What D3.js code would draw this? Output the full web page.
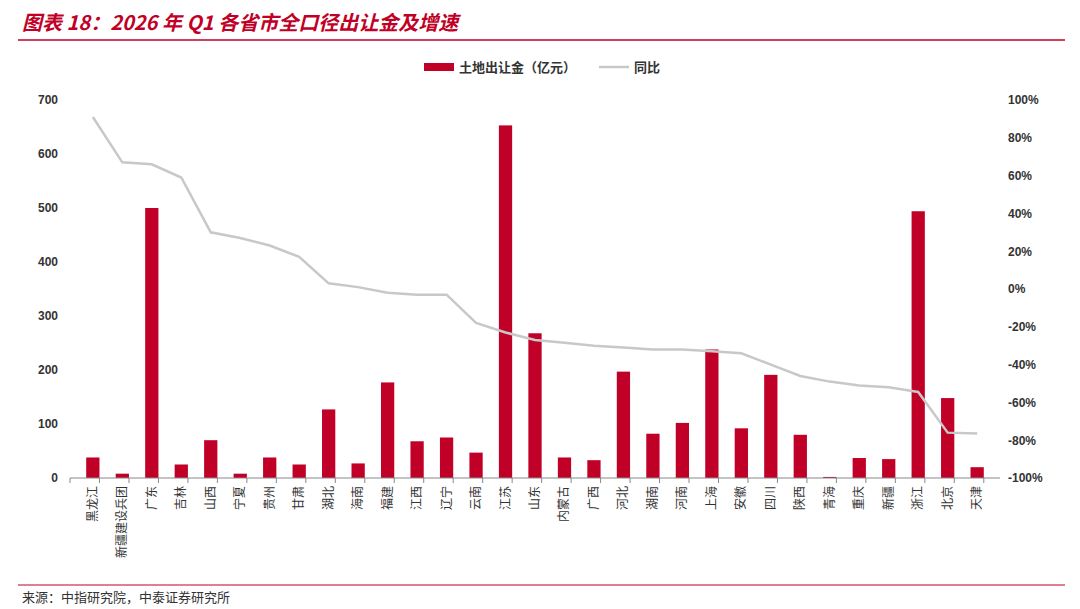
<!DOCTYPE html>
<html><head><meta charset="utf-8">
<script src="https://cdn.jsdelivr.net/npm/d3@7"></script>
<style>body{margin:0;background:#fff;font-family:"Noto Sans CJK SC","Noto Sans",sans-serif}</style>
</head><body><svg id="c" width="1080" height="609"></svg>
<script>
const provinces = ["黑龙江","新疆建设兵团","广东","吉林","山西","宁夏","贵州","甘肃","湖北","海南","福建","江西","辽宁","云南","江苏","山东","内蒙古","广西","河北","湖南","河南","上海","安徽","四川","陕西","青海","重庆","新疆","浙江","北京","天津"];
const landRevenue = [38,8,500,25,70,8,38,25,127,27,177,68,75,47,653,268,38,33,197,82,102,238,92,191,80,2,37,35,494,148,20];
const yoy = [91,67,66,59,30,27,23,17,3,1,-2,-3,-3,-18,-23,-27,-28.5,-30,-31,-32,-32,-33,-34,-40,-46,-49,-51,-52,-54.5,-76,-76.5];
const leftTicks = [0,100,200,300,400,500,600,700];
const rightTicks = [-100,-80,-60,-40,-20,0,20,40,60,80,100];

const svg = d3.select("#c");
const red = "#c00026";
const m = {l:70, r:1000, t:100, b:478};

svg.append("text").attr("x",22).attr("y",30).attr("fill",red).attr("font-size",20)
  .attr("font-weight","bold").attr("font-style","italic").text("图表 18：2026 年 Q1 各省市全口径出让金及增速");
svg.append("line").attr("x1",18).attr("x2",1065).attr("y1",40).attr("y2",40).attr("stroke",red).attr("stroke-width",1.5);
svg.append("line").attr("x1",18).attr("x2",1065).attr("y1",585).attr("y2",585).attr("stroke",red).attr("stroke-width",1.2);
svg.append("text").attr("x",22).attr("y",602).attr("font-size",13).attr("fill","#333")
  .attr("font-family","'Noto Sans CJK SC'").text("来源：中指研究院，中泰证券研究所");

const x = d3.scaleBand().domain(provinces).range([m.l, m.r]).padding(0.55);
const y = d3.scaleLinear().domain([0,700]).range([m.b, m.t]);
const y2 = d3.scaleLinear().domain([-100,100]).range([m.b, m.t]);

svg.append("g").attr("transform",`translate(${m.l},0)`)
  .call(d3.axisLeft(y).tickValues(leftTicks).tickSize(0).tickPadding(12))
  .call(g=>g.select(".domain").remove())
  .selectAll("text").attr("font-size",12).attr("font-weight","bold").attr("fill","#333");
svg.append("g").attr("transform",`translate(${m.r},0)`)
  .call(d3.axisRight(y2).tickValues(rightTicks).tickSize(0).tickPadding(8).tickFormat(d=>d+"%"))
  .call(g=>g.select(".domain").remove())
  .selectAll("text").attr("font-size",12).attr("font-weight","bold").attr("fill","#333");

svg.selectAll("rect.bar").data(landRevenue).join("rect").attr("class","bar")
  .attr("x",(d,i)=>x(provinces[i])).attr("width",x.bandwidth())
  .attr("y",d=>y(d)).attr("height",d=>y(0)-y(d)).attr("fill",red);

svg.append("line").attr("x1",m.l).attr("x2",m.r).attr("y1",m.b).attr("y2",m.b).attr("stroke","#888");
svg.append("g").selectAll("line").data(d3.range(provinces.length+1)).join("line")
  .attr("x1",i=>m.l+i*x.step()).attr("x2",i=>m.l+i*x.step())
  .attr("y1",m.b).attr("y2",m.b+5).attr("stroke","#888");

svg.append("path").datum(yoy)
  .attr("d",d3.line().x((d,i)=>x(provinces[i])+x.bandwidth()/2).y(d=>y2(d)))
  .attr("fill","none").attr("stroke","#c8c8c8").attr("stroke-width",2.5);

svg.append("g").selectAll("text").data(provinces).join("text")
  .attr("transform",d=>`translate(${x(d)+x.bandwidth()/2+4},${m.b+8}) rotate(-90)`)
  .attr("text-anchor","end").attr("font-size",12).attr("fill","#333").text(d=>d);

const lg = svg.append("g").attr("transform","translate(424,67)");
lg.append("rect").attr("x",0).attr("y",-4).attr("width",30).attr("height",8).attr("fill",red);
lg.append("text").attr("x",35).attr("y",5).attr("font-size",13).attr("font-weight","bold").attr("fill","#333").text("土地出让金（亿元）");
lg.append("line").attr("x1",175).attr("x2",205).attr("y1",0).attr("y2",0).attr("stroke","#c8c8c8").attr("stroke-width",2.5);
lg.append("text").attr("x",210).attr("y",5).attr("font-size",13).attr("font-weight","bold").attr("fill","#333").text("同比");
</script></body></html>
